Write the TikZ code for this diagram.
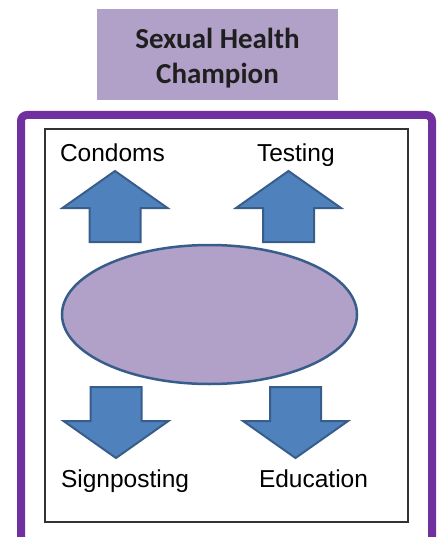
\documentclass[tikz,border=0pt]{standalone}
\usepackage{fontspec}
\setmainfont{Liberation Sans}
\newfontfamily\calibrifont{Carlito}
\usetikzlibrary{shapes.geometric}

\definecolor{champion}{HTML}{B1A0C7}
\definecolor{framepurple}{HTML}{7030A0}
\definecolor{arrowblue}{HTML}{4F81BD}
\definecolor{arrowedge}{HTML}{385D8A}

\begin{document}
\begin{tikzpicture}[
        x=1pt, y=-1pt,
        every node/.style={inner sep=0pt, outer sep=0pt},
        titlebox/.style={fill=champion, minimum width=241pt, minimum height=91pt},
        titletext/.style={align=center, font=\calibrifont\bfseries\fontsize{29}{35}\selectfont, text=black!88},
        hub/.style={ellipse, draw=arrowedge, line width=2.5pt, fill=champion, minimum width=295pt, minimum height=139pt},
        topic/.style={anchor=base west, font=\fontsize{24.5}{29}\selectfont},
        blockarrow/.style={draw=arrowedge, line width=2pt, fill=arrowblue},
        uparrow/.pic={\path[blockarrow] (0,0) -- (52.5,37) -- (25.5,37) -- (25.5,71) -- (-25.5,71) -- (-25.5,37) -- (-52.5,37) -- cycle;}
        ]
        \useasboundingbox (0,0) rectangle (438,537);

        \node [titlebox] (title) at (217.5,54.5) {};
        \node [titletext] (titlename) at (217.5,58.5) {Sexual Health\\Champion};

        % moldura roxa aberta em baixo
        \draw [framepurple, line width=8pt, rounded corners=6pt] (21,537) -- (21,115) -- (432,115) -- (432,537);
        \draw [black!80, line width=1.2pt] (45,129) rectangle (408,522);

        \node [hub] (centre) at (209.5,314.5) {};

        \pic at (115,171) {uparrow};
        \pic at (288.5,171) {uparrow};
        \pic [yscale=-1] at (116,458) {uparrow};
        \pic [yscale=-1] at (295.5,458) {uparrow};

        \node [topic] (condoms) at (60,162) {Condoms};
        \node [topic] (testing) at (257,162) {Testing};
        \node [topic] (signposting) at (61,487) {Signposting};
        \node [topic] (education) at (259,487) {Education};
    \end{tikzpicture}
\end{document}
